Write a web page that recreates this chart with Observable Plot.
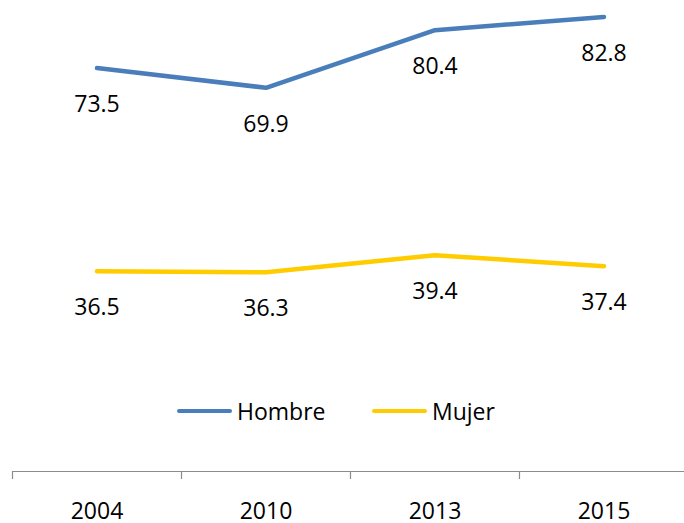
<!DOCTYPE html>
<html>
<head>
<meta charset="utf-8">
<script src="https://cdn.jsdelivr.net/npm/d3@7"></script>
<script src="https://cdn.jsdelivr.net/npm/@observablehq/plot@0.6"></script>
<style>
  html, body { margin: 0; padding: 0; background: #fff; }
  #wrap { position: relative; width: 684px; height: 523px; font-family: "Open Sans", sans-serif; }
  #legend { position: absolute; top: 396px; left: 0; width: 684px; height: 30px; font-size: 23px; color: #000; }
  .item { position: absolute; top: 0; display: flex; align-items: center; height: 30px; }
  .swatch { width: 55px; height: 4.5px; border-radius: 3px; margin-right: 5px; }
</style>
</head>
<body>
<div id="wrap"></div>
<script>
const years = ["2004", "2010", "2013", "2015"];
const seriesNames = ["Hombre", "Mujer"];
const hombre = [73.5, 69.9, 80.4, 82.8];
const mujer = [36.5, 36.3, 39.4, 37.4];
const colors = ["#4A7EBB", "#FFCC00"];

const data = [];
years.forEach((y, i) => {
  data.push({year: y, series: "Hombre", value: hombre[i]});
  data.push({year: y, series: "Mujer", value: mujer[i]});
});

const W = 684, H = 523;
const xRange = [12.3, 688.3];
const halfBand = (xRange[1] - xRange[0]) / years.length / 2;

const chart = Plot.plot({
  width: W,
  height: H,
  marginTop: 0,
  marginLeft: 12,
  marginRight: 0,
  marginBottom: 52,
  style: {fontFamily: "'Open Sans', sans-serif", background: "#fff", color: "#000"},
  x: {type: "band", domain: years, range: xRange, padding: 0, label: null},
  y: {domain: [0, 85.8], axis: null},
  color: {domain: seriesNames, range: colors},
  marks: [
    Plot.ruleY([0], {stroke: "#8c8c8c", strokeWidth: 1.2}),
    Plot.axisX({tickSize: 8, tickFormat: () => "", dx: -halfBand, stroke: "#8c8c8c", strokeWidth: 1.2, label: null}),
    Plot.axisX({tickSize: 0, tickPadding: 31, fontSize: 23, fill: "#000", label: null}),
    Plot.line(data, {x: "year", y: "value", z: "series", stroke: "series", strokeWidth: 4.5, strokeLinecap: "round", strokeLinejoin: "round"}),
    Plot.text(data, {x: "year", y: "value", text: d => d.value.toFixed(1), dy: 36.5, fontSize: 23, fill: "#000"})
  ]
});

const wrap = document.getElementById("wrap");
wrap.appendChild(chart);

const legend = document.createElement("div");
legend.id = "legend";
const legendLeft = [177, 372];
seriesNames.forEach((name, i) => {
  const item = document.createElement("div");
  item.className = "item";
  item.style.left = legendLeft[i] + "px";
  const sw = document.createElement("div");
  sw.className = "swatch";
  sw.style.background = colors[i];
  const label = document.createElement("span");
  label.textContent = name;
  item.appendChild(sw);
  item.appendChild(label);
  legend.appendChild(item);
});
wrap.appendChild(legend);
</script>
</body>
</html>
